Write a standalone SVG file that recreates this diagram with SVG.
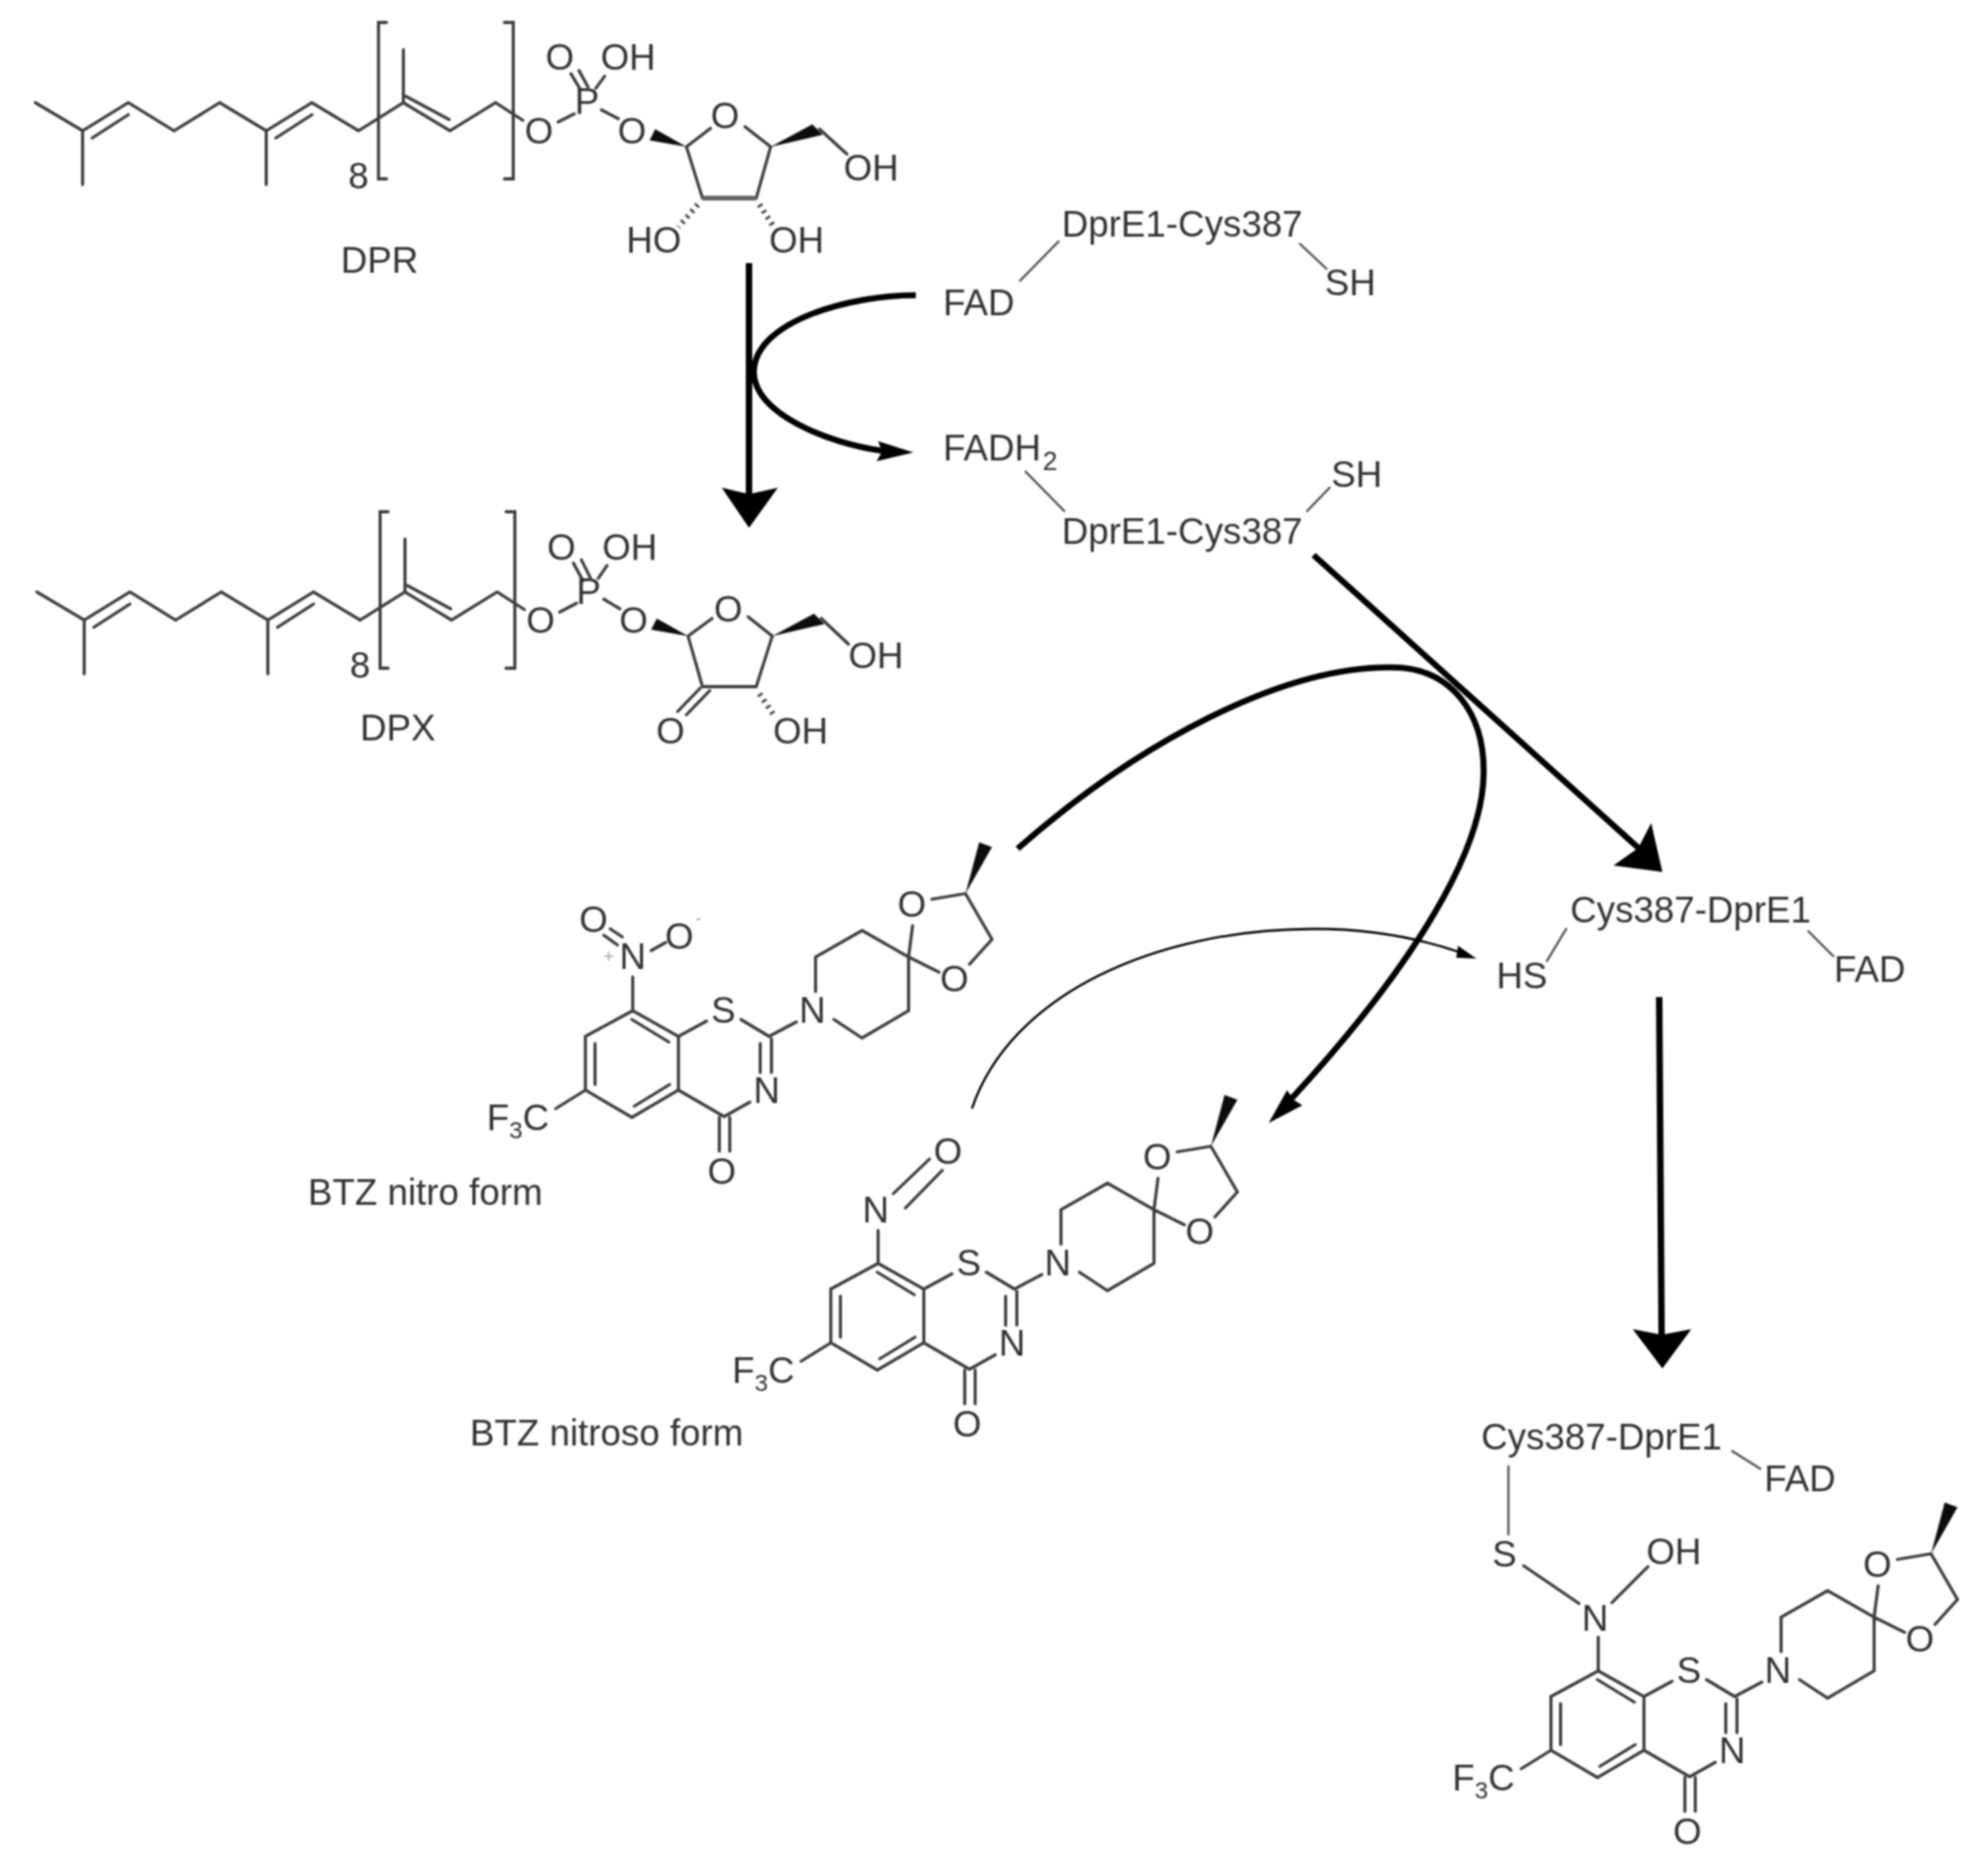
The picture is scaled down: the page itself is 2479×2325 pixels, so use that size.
<svg xmlns="http://www.w3.org/2000/svg" xmlns:xlink="http://www.w3.org/1999/xlink" width="2479" height="2325" viewBox="0 0 2479 2325">
<style>
text{font-family:"Liberation Sans",Arial,sans-serif;font-size:45.8px;fill:#333}
.m{text-anchor:middle}
.sub{font-size:30px}
.sub2{font-size:33px}
.faint{font-size:24px;fill:#aaa}
.b{stroke:#3c3c3c;stroke-width:3.8;fill:none;stroke-linecap:round;stroke-linejoin:miter}
.t{stroke:#555;stroke-width:2.8;fill:none;stroke-linecap:round}
.h{stroke:#444;stroke-width:7;fill:none;stroke-dasharray:3 6}
.w{fill:#111;stroke:none}
.a{stroke:#000;fill:none;stroke-linecap:butt}
.hd{fill:#000;stroke:none}
</style>
<defs>
<filter id="soft" filterUnits="userSpaceOnUse" x="0" y="0" width="2479" height="2325"><feGaussianBlur stdDeviation="0.9"/></filter>
<g id="chain">
<path class="b" d="M44,128L103,163L160,128L217,163L274,128L332,163L389,128L447,163L503,128L561,163L618,128L652,150M103,163V230M332,163V230M503,128V62M160,143L115,172M389,143L344,172M506,120L560,149"/>
<path class="b" d="M482,28H472V223H482M629,28H640V223H629"/>
</g>
<g id="btz">
<path class="b" d="M1993,2083L1934,2115V2182L1992,2216L2050,2182V2115L1993,2083M1992,2094L2038,2122M1946,2124V2175M1995,2202L2039,2175M2050,2115L2085,2096M2128,2094L2163,2115M2152,2124V2160M2166,2118V2160M2139,2197L2107,2215L2050,2182M2101,2216V2258M2114,2216V2258M1934,2182L1897,2205M2163,2115L2197,2097M2221,2059V2016L2279,1983L2337,2016V2083L2279,2117L2244,2094M2337,2016L2342,1977M2366,1944L2408,1937L2441,1994L2413,2025M2337,2016L2375,2035"/>
<polygon class="w" points="2408,1937 2425,1873 2441,1879"/>
</g>
</defs>
<rect width="2479" height="2325" fill="#fff"/>
<g filter="url(#soft)">
<g id="connectors">
<path class="a" stroke-width="8" d="M934,328V620"/>
<polygon class="hd" points="900,608 934,616 970,608 934,658"/>
<path class="a" stroke-width="7.5" d="M1142,368C1060,368 942,400 940,463C940,515 1030,552 1100,562"/>
<polygon class="hd" points="1095,550 1139,564 1093,575 1100,563"/>
<path class="a" stroke-width="7.5" d="M1638,692L2043,1057"/>
<polygon class="hd" points="2059,1026 2073,1087 2012,1079 2043,1057"/>
<path class="a" stroke-width="7.5" d="M1269,1058C1420,925 1600,830 1736,832C1810,832 1852,890 1850,966C1848,1080 1730,1240 1611,1369"/>
<polygon class="hd" points="1605,1359 1582,1400 1624,1378 1613,1371"/>
<path class="a" stroke-width="2.8" stroke="#444" d="M1212,1382C1260,1240 1440,1158 1640,1158C1710,1158 1770,1170 1820,1187"/>
<polygon class="hd" points="1818,1179 1841,1195 1816,1194"/>
<path class="a" stroke-width="8" d="M2069,1243L2072,1665"/>
<polygon class="hd" points="2036,1657 2072,1664 2109,1657 2073,1706"/>
</g>
<g id="dpr">
<use href="#chain" xlink:href="#chain"/>
<path class="b" d="M696,152L716,142M750,137L771,148M712,92L724,112M722,88L733,108M754,95L743,110M886,160L856,183L876,247M929,158L961,183L943,247M1022,161L1056,192"/>
<path style="stroke-width:6;stroke:#666;fill:none" d="M876,247H943"/>
<polygon class="w" points="856,183 810,175 817,161"/>
<polygon class="w" points="961,183 1013,155 1026,168"/>
<path class="h" d="M870,255L846,283M947,255L965,283"/>
<text class="m" x="447" y="235">8</text>
<text class="m" x="672" y="179">O</text>
<text class="m" x="698" y="87">O</text>
<text x="749" y="87">OH</text>
<text class="m" x="732" y="142">P</text>
<text class="m" x="788" y="179">O</text>
<text class="m" x="904" y="160">O</text>
<text x="1052" y="225">OH</text>
<text x="781" y="315">HO</text>
<text x="959" y="315">OH</text>
<text x="425" y="340">DPR</text>
</g>
<g id="dpx">
<use href="#chain" xlink:href="#chain" transform="translate(2,610)"/>
<path class="b" d="M698,763L719,752M753,747L773,759M715,702L727,724M725,698L736,720M757,705L746,721M888,771L858,793L876,856H943L963,793L933,769M1024,771L1058,803M873,858L845,887M885,861L856,891"/>
<polygon class="w" points="858,793 812,785 819,771"/>
<polygon class="w" points="963,793 1015,765 1028,778"/>
<path class="h" d="M947,865L966,893"/>
<text class="m" x="449" y="845">8</text>
<text class="m" x="674" y="789">O</text>
<text class="m" x="700" y="698">O</text>
<text x="751" y="698">OH</text>
<text class="m" x="734" y="753">P</text>
<text class="m" x="790" y="789">O</text>
<text class="m" x="908" y="775">O</text>
<text x="1058" y="833">OH</text>
<text class="m" x="836" y="927">O</text>
<text x="964" y="927">OH</text>
<text x="449" y="923">DPX</text>
</g>
<g id="fad-sh-1">
<path class="t" d="M1272,350L1320,301M1621,304L1654,335"/>
<text x="1324" y="295">DprE1-Cys387</text>
<text x="1176" y="393">FAD</text>
<text x="1652" y="368">SH</text>
</g>
<g id="fadh2-sh">
<path class="t" d="M1279,588L1327,637M1630,637L1658,608"/>
<text x="1176" y="574">FADH<tspan class="sub2" dy="12" dx="2">2</tspan></text>
<text x="1324" y="678">DprE1-Cys387</text>
<text x="1660" y="607">SH</text>
</g>
<g id="btz-nitro">
<use href="#btz" xlink:href="#btz" transform="translate(-1204,-823)"/>
<path class="b" d="M789,1260V1218M753,1166L770,1178M761,1158L776,1168M812,1185L830,1175"/>
<text class="m" x="789" y="1208">N</text>
<text class="faint" x="752" y="1200">+</text>
<text class="m" x="740" y="1162">O</text>
<text class="m" x="847" y="1183">O</text>
<text class="faint" x="867" y="1152">-</text>
<text class="m" x="902" y="1275">S</text>
<text class="m" x="1013" y="1275">N</text>
<text class="m" x="956" y="1375">N</text>
<text class="m" x="900" y="1476">O</text>
<text x="607" y="1409">F<tspan class="sub" dy="10">3</tspan><tspan dy="-10">C</tspan></text>
<text class="m" x="1137" y="1143">O</text>
<text class="m" x="1190" y="1236">O</text>
<text x="384" y="1502">BTZ nitro form</text>
</g>
<g id="btz-nitroso">
<use href="#btz" xlink:href="#btz" transform="translate(-898,-508)"/>
<path class="b" d="M1095,1575V1534M1114,1488L1159,1445M1129,1506L1175,1459"/>
<text class="m" x="1092" y="1524">N</text>
<text class="m" x="1182" y="1451">O</text>
<text class="m" x="1208" y="1590">S</text>
<text class="m" x="1319" y="1590">N</text>
<text class="m" x="1262" y="1690">N</text>
<text class="m" x="1206" y="1791">O</text>
<text x="913" y="1724">F<tspan class="sub" dy="10">3</tspan><tspan dy="-10">C</tspan></text>
<text class="m" x="1443" y="1458">O</text>
<text class="m" x="1496" y="1551">O</text>
<text x="586" y="1802">BTZ nitroso form</text>
</g>
<g id="cys-fad-hs">
<path class="t" d="M1953,1158L1929,1198M2255,1161L2286,1192"/>
<text x="1958" y="1150">Cys387-DprE1</text>
<text x="1866" y="1232">HS</text>
<text x="2287" y="1224">FAD</text>
</g>
<g id="adduct">
<use href="#btz" xlink:href="#btz"/>
<path class="t" d="M1881,1828V1913M2160,1809L2195,1831"/>
<path class="b" d="M1900,1952L1969,1999M2010,1998L2055,1953M1993,2041V2083"/>
<text x="1847" y="1807">Cys387-DprE1</text>
<text x="2200" y="1859">FAD</text>
<text class="m" x="1876" y="1953">S</text>
<text x="2053" y="1950">OH</text>
<text class="m" x="1989" y="2033">N</text>
<text class="m" x="2106" y="2098">S</text>
<text class="m" x="2217" y="2098">N</text>
<text class="m" x="2160" y="2198">N</text>
<text class="m" x="2104" y="2299">O</text>
<text x="1811" y="2232">F<tspan class="sub" dy="10">3</tspan><tspan dy="-10">C</tspan></text>
<text class="m" x="2341" y="1966">O</text>
<text class="m" x="2394" y="2059">O</text>
</g>
</g>
</svg>
